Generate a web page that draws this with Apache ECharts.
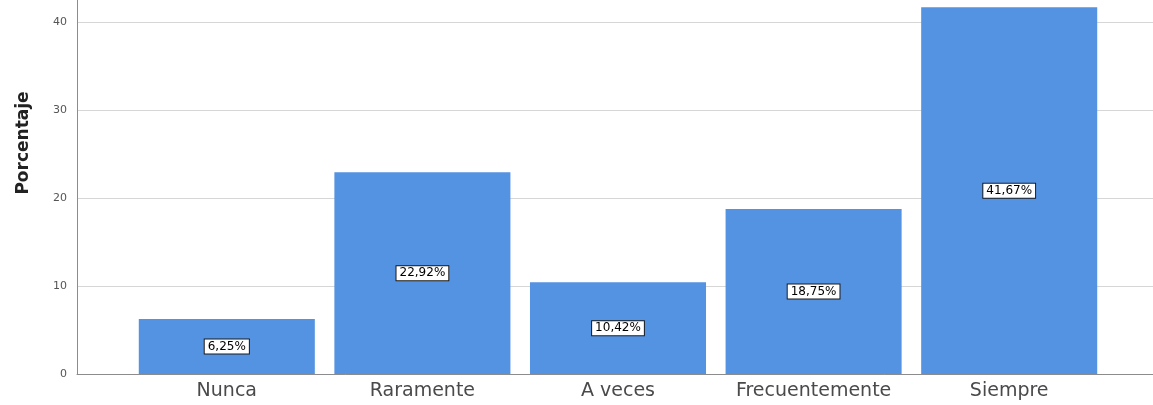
<!DOCTYPE html>
<html>
<head>
<meta charset="utf-8">
<script src="https://cdn.jsdelivr.net/npm/echarts@6/dist/echarts.min.js"></script>
<style>
  html, body { margin: 0; padding: 0; background: #ffffff; }
  #chart { width: 1153px; height: 405px; }
</style>
</head>
<body>
<div id="chart"></div>
<script>
// Response categories and their share of answers (%)
const categorias = ['Nunca', 'Raramente', 'A veces', 'Frecuentemente', 'Siempre'];
const porcentajes = [6.25, 22.92, 10.42, 18.75, 41.67];
const ejeY = { min: 0, max: 52.5, intervalo: 10, titulo: 'Porcentaje' };

const fmtPct = v => v.toFixed(2).replace('.', ',') + '%';
const fuente = 'DejaVu Sans, Liberation Sans, Arial, sans-serif';

const chart = echarts.init(document.getElementById('chart'), null, { renderer: 'canvas' });

const gridTop = -88, gridBottom = 31;

chart.setOption({
  animation: false,
  backgroundColor: '#ffffff',
  grid: [
    // frame grid: value axis, gridlines and baseline across the full width
    { left: 77, right: 0, top: gridTop, bottom: gridBottom, outerBoundsMode: 'none', containLabel: false },
    // bar grid: evenly spaced categories
    { left: 129, right: 46, top: gridTop, bottom: gridBottom, outerBoundsMode: 'none', containLabel: false }
  ],
  xAxis: [
    {
      gridIndex: 0, type: 'value', min: 0, max: 1,
      axisLine: { show: true, lineStyle: { color: '#8c8c8c', width: 1 } },
      axisTick: { show: false }, axisLabel: { show: false }, splitLine: { show: false }
    },
    {
      gridIndex: 1, type: 'category', data: categorias,
      axisLine: { show: false }, axisTick: { show: false },
      axisLabel: { interval: 0, hideOverlap: false, margin: 8, fontSize: 19,
        color: '#4a4a4a', fontFamily: fuente }
    }
  ],
  yAxis: [
    {
      gridIndex: 0, type: 'value', min: ejeY.min, max: ejeY.max, interval: ejeY.intervalo,
      name: ejeY.titulo, nameLocation: 'middle', nameGap: 45,
      nameTextStyle: { fontSize: 17, fontWeight: 'bold', color: '#222', fontFamily: fuente },
      axisLine: { show: true, lineStyle: { color: '#8c8c8c', width: 1 } },
      axisTick: { show: false },
      axisLabel: { margin: 10, fontSize: 11, color: '#555', showMaxLabel: false, fontFamily: fuente },
      splitLine: { show: true, lineStyle: { color: '#d6d6d6', width: 1 } }
    },
    {
      gridIndex: 1, type: 'value', min: ejeY.min, max: ejeY.max,
      show: false, splitLine: { show: false }
    }
  ],
  series: [{
    type: 'bar',
    xAxisIndex: 1, yAxisIndex: 1,
    data: porcentajes,
    barCategoryGap: '10%',
    itemStyle: { color: '#5492e2' },
    label: {
      show: true, position: 'inside',
      formatter: p => fmtPct(p.value),
      fontSize: 12, lineHeight: 13, color: '#000', fontFamily: fuente,
      backgroundColor: '#ffffff', borderColor: '#1a1a1a', borderWidth: 1,
      padding: [1, 3, 0, 3]
    }
  }]
});
</script>
</body>
</html>
